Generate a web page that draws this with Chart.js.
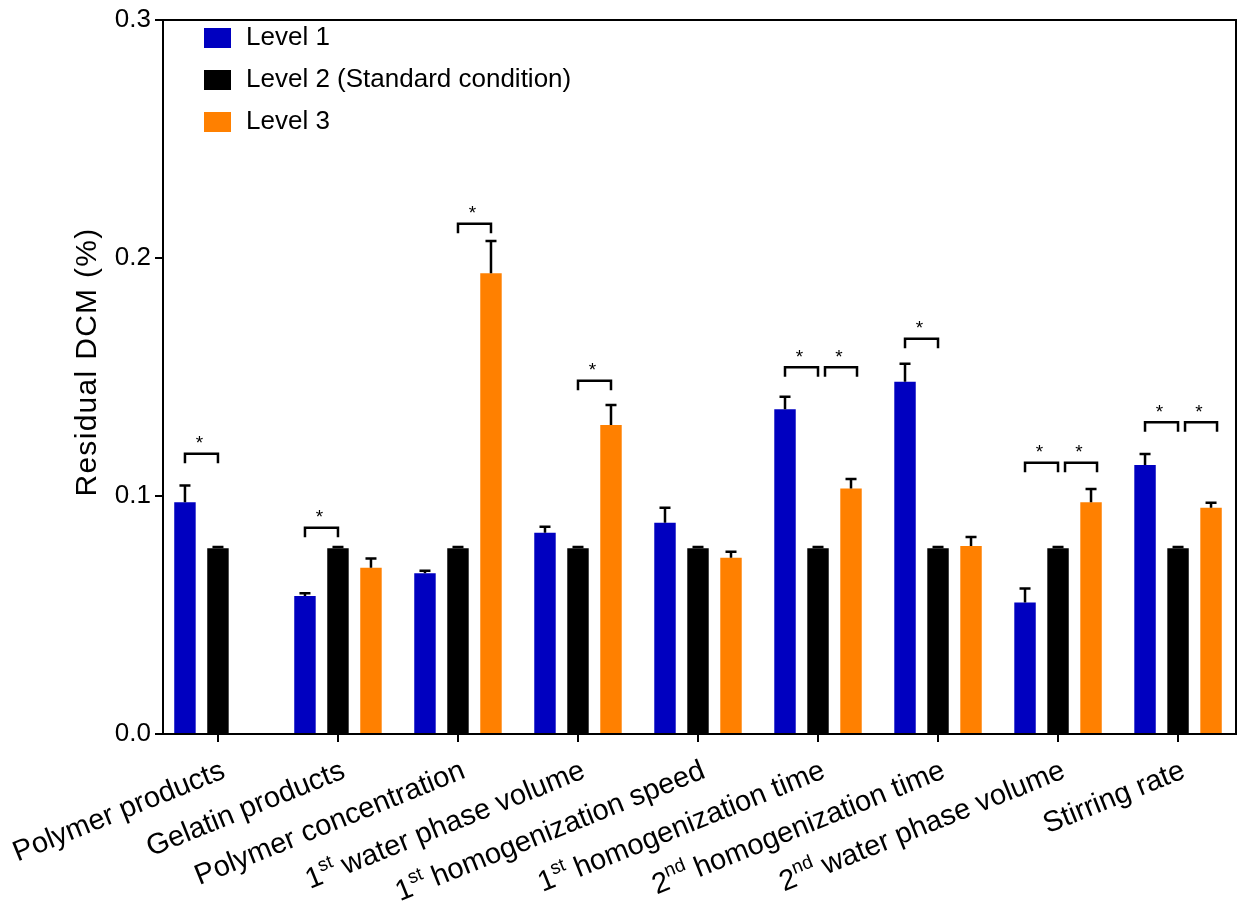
<!DOCTYPE html>
<html><head><meta charset="utf-8">
<script src="https://cdn.jsdelivr.net/npm/chart.js@4.4.1/dist/chart.umd.min.js"></script>
<style>html,body{margin:0;padding:0;background:#fff;} #wrap{width:1238px;height:913px;position:relative;}</style>
</head><body><div id="wrap"><canvas id="c" width="1238" height="913"></canvas></div>
<script>
const categories = ["Polymer products","Gelatin products","Polymer concentration","1st water phase volume","1st homogenization speed","1st homogenization time","2nd homogenization time","2nd water phase volume","Stirring rate"];
const seriesNames = ["Level 1","Level 2 (Standard condition)","Level 3"];
const level1    = [0.0974,0.0580,0.0675,0.0846,0.0888,0.1364,0.1480,0.0552,0.1130];
const level1Err = [0.0070,0.0011,0.0011,0.0025,0.0063,0.0053,0.0076,0.0059,0.0046];
const level2    = [0.078,0.078,0.078,0.078,0.078,0.078,0.078,0.078,0.078];
const level2Err = [0.0006,0.0006,0.0006,0.0006,0.0006,0.0006,0.0006,0.0006,0.0006];
const level3    = [null,0.0699,0.1936,0.1298,0.0741,0.1032,0.0790,0.0974,0.0951];
const level3Err = [null,0.0038,0.0135,0.0084,0.0025,0.0039,0.0038,0.0055,0.0021];
const yTicks = [0,0.1,0.2,0.3];
const sigCategory = [0,1,2,3,5,5,6,7,7,8,8];
const sigFrom     = [0,0,1,1,0,1,0,0,1,0,1];
const sigTo       = [1,1,2,2,1,2,1,1,2,1,2];
const sigLevel    = [0.1178,0.0867,0.2144,0.1484,0.1541,0.1541,0.1661,0.1140,0.1140,0.1310,0.1310];
const sigMark = "*";

const FONT = '"Liberation Sans", Arial, Helvetica, sans-serif';
const COLORS = ['#0000C0','#000000','#FF8000'];
const ERRS = [level1Err, level2Err, level3Err];
const ROT = 22 * Math.PI / 180;

function drawXLabel(ctx, text, x, y) {
  ctx.save();
  ctx.translate(x, y);
  ctx.rotate(-ROT);
  const m = text.match(/^(\d+)(st|nd|rd|th)(\s.*)$/);
  const main = '29px ' + FONT, sup = '19px ' + FONT;
  const parts = m ? [[m[1], main, 0], [m[2], sup, -12], [m[3], main, 0]] : [[text, main, 0]];
  let total = 0;
  parts.forEach(p => { ctx.font = p[1]; p.push(ctx.measureText(p[0]).width); total += p[3]; });
  let cx = -total;
  ctx.textAlign = 'left';
  ctx.textBaseline = 'alphabetic';
  ctx.fillStyle = '#000';
  parts.forEach(p => { ctx.font = p[1]; ctx.fillText(p[0], cx, 10 + p[2]); cx += p[3]; });
  ctx.restore();
}

const deco = {
  id: 'deco',
  afterDatasetsDraw(chart) {
    const ctx = chart.ctx, ys = chart.scales.y, a = chart.chartArea;
    ctx.save();
    ctx.strokeStyle = '#000';
    ctx.lineWidth = 2.5;
    // error bars (upper only)
    chart.data.datasets.forEach((ds, di) => {
      const meta = chart.getDatasetMeta(di);
      meta.data.forEach((bar, j) => {
        const v = ds.data[j].y, e = ERRS[di][j];
        if (v == null || e == null) return;
        const y0 = ys.getPixelForValue(v), y1 = ys.getPixelForValue(v + e);
        ctx.beginPath();
        ctx.moveTo(bar.x, y0); ctx.lineTo(bar.x, y1);
        ctx.moveTo(bar.x - 5.5, y1); ctx.lineTo(bar.x + 5.5, y1);
        ctx.stroke();
      });
    });
    // frame
    ctx.lineWidth = 2;
    ctx.strokeRect(a.left, a.top, a.right - a.left, a.bottom - a.top);
    // significance brackets
    ctx.lineWidth = 2.5;
    ctx.lineJoin = 'miter';
    sigCategory.forEach((cat, k) => {
      let x1 = chart.getDatasetMeta(sigFrom[k]).data[cat].x;
      let x2 = chart.getDatasetMeta(sigTo[k]).data[cat].x;
      const shared = sigFrom[k] === 1 && sigCategory.some((c2, k2) => k2 !== k && c2 === cat && sigTo[k2] === 1);
      if (shared) { x1 += 7; x2 += 6; }
      const yb = ys.getPixelForValue(sigLevel[k]);
      ctx.beginPath();
      ctx.moveTo(x1, yb + 9.5); ctx.lineTo(x1, yb); ctx.lineTo(x2, yb); ctx.lineTo(x2, yb + 9.5);
      ctx.stroke();
      ctx.fillStyle = '#000';
      ctx.font = '19px ' + FONT;
      ctx.textAlign = 'center';
      ctx.textBaseline = 'alphabetic';
      ctx.fillText(sigMark, (x1 + x2) / 2 - 2, yb - 4.5);
    });
    ctx.restore();
  },
  afterDraw(chart) {
    const ctx = chart.ctx, xs = chart.scales.x, a = chart.chartArea;
    ctx.save();
    // legend
    chart.data.datasets.forEach((ds, i) => {
      const yc = a.top + 18 + 42 * i;
      ctx.fillStyle = ds.backgroundColor;
      ctx.fillRect(a.left + 41, yc - 10, 27, 20);
      ctx.fillStyle = '#000';
      ctx.font = '26px ' + FONT;
      ctx.textAlign = 'left';
      ctx.textBaseline = 'middle';
      ctx.fillText(ds.label, a.left + 83, yc);
    });
    // y title
    ctx.save();
    ctx.translate(88, (a.top + a.bottom) / 2 - 15);
    ctx.rotate(-Math.PI / 2);
    ctx.font = '30px ' + FONT;
    try { ctx.letterSpacing = '1.3px'; } catch (e) {}
    ctx.textAlign = 'center';
    ctx.textBaseline = 'middle';
    ctx.fillStyle = '#000';
    ctx.fillText('Residual DCM (%)', 0, 0);
    try { ctx.letterSpacing = '0px'; } catch (e) {}
    ctx.restore();
    // x labels
    categories.forEach((c, i) => {
      drawXLabel(ctx, c, xs.getPixelForValue(i) + 5, a.bottom + 34);
    });
    ctx.restore();
  }
};

const toPts = arr => arr.map((v, i) => ({ x: i, y: v }));

new Chart(document.getElementById('c'), {
  type: 'bar',
  data: {
    datasets: [
      { label: seriesNames[0], data: toPts(level1), backgroundColor: COLORS[0] },
      { label: seriesNames[1], data: toPts(level2), backgroundColor: COLORS[1] },
      { label: seriesNames[2], data: toPts(level3), backgroundColor: COLORS[2] }
    ]
  },
  options: {
    responsive: false,
    animation: false,
    layout: { padding: { top: 20, right: 2, left: 0, bottom: 0 } },
    datasets: { bar: { categoryPercentage: 0.825, barPercentage: 0.65, borderWidth: 0 } },
    plugins: { legend: { display: false }, tooltip: { enabled: false } },
    scales: {
      x: {
        type: 'linear', min: -0.458, max: 8.483, offset: false,
        afterBuildTicks: s => { s.ticks = categories.map((c, i) => ({ value: i })); },
        ticks: { display: false },
        grid: { drawOnChartArea: false, drawTicks: true, tickLength: 8, color: '#000', lineWidth: 2, offset: false },
        border: { display: true, color: '#000', width: 2 },
        afterFit: s => { s.height = 179; }
      },
      y: {
        min: 0, max: 0.3,
        afterBuildTicks: s => { s.ticks = yTicks.map(v => ({ value: v })); },
        ticks: { callback: v => Number(v).toFixed(1), font: { family: FONT, size: 26 }, color: '#000', padding: 4 },
        grid: { drawOnChartArea: false, tickLength: 8, color: '#000', lineWidth: 2 },
        border: { display: true, color: '#000', width: 2 },
        afterFit: s => { s.width = 163; }
      }
    }
  },
  plugins: [deco]
});
</script>
</body></html>
